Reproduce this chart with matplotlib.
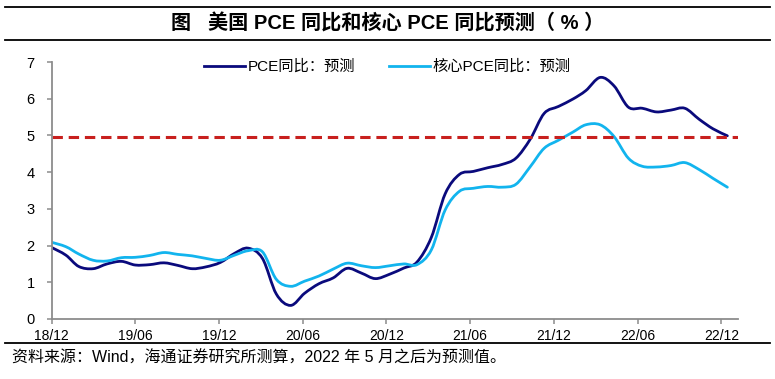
import numpy as np
import pandas as pd
import matplotlib
matplotlib.use('Agg')
import matplotlib.pyplot as plt
from matplotlib.path import Path
from matplotlib.patches import PathPatch
from matplotlib.lines import Line2D
import matplotlib.dates as mdates

# ---------------- data ----------------
months = pd.date_range('2018-12-31', '2022-12-31', freq='ME')

pce = [1.95, 1.74, 1.43, 1.37, 1.50, 1.57, 1.47, 1.48, 1.53, 1.46, 1.37, 1.42,
       1.54, 1.79, 1.93, 1.65, 0.68, 0.37, 0.70, 0.96, 1.12, 1.38, 1.25, 1.10,
       1.22, 1.39, 1.55, 2.22, 3.41, 3.94, 4.02, 4.12, 4.21, 4.38, 4.90, 5.60,
       5.79, 5.99, 6.22, 6.58, 6.35, 5.77, 5.74, 5.64, 5.69, 5.74, 5.44, 5.18,
       4.99]

core_pce = [2.09, 1.97, 1.77, 1.60, 1.58, 1.67, 1.68, 1.73, 1.81, 1.76, 1.72, 1.65,
            1.60, 1.74, 1.86, 1.83, 1.08, 0.89, 1.03, 1.17, 1.36, 1.52, 1.45, 1.40,
            1.45, 1.50, 1.48, 1.88, 2.97, 3.48, 3.56, 3.61, 3.59, 3.67, 4.15, 4.65,
            4.87, 5.09, 5.29, 5.29, 4.97, 4.38, 4.16, 4.14, 4.18, 4.26, 4.07, 3.83,
            3.59]

threshold = 4.95

tick_labels = ['18/12', '19/06', '19/12', '20/06', '20/12', '21/06', '21/12', '22/06', '22/12']
y_ticks = [0, 1, 2, 3, 4, 5, 6, 7]

series_names = ['PCE同比：预测', '核心PCE同比：预测']
title = '图   美国 PCE 同比和核心 PCE 同比预测（ % ）'
footer = '资料来源：Wind，海通证券研究所测算，2022 年 5 月之后为预测值。'

# ---------------- style ----------------
DARK = '#0A0A7C'
LIGHT = '#12B4EE'
RED = '#C8201E'
AXIS = '#8C8C8C'
LAT_CJK = ['Liberation Sans', 'Noto Sans CJK SC']


def smooth_path(x, y):
    """Excel-like smoothed line (Catmull-Rom as cubic Bezier segments)."""
    x = np.asarray(x, float)
    y = np.asarray(y, float)
    n = len(x)
    verts = [(x[0], y[0])]
    codes = [Path.MOVETO]
    for i in range(n - 1):
        xp, yp = (x[i - 1], y[i - 1]) if i > 0 else (x[i], y[i])
        xn, yn = (x[i + 2], y[i + 2]) if i + 2 < n else (x[i + 1], y[i + 1])
        c1 = (x[i] + (x[i + 1] - xp) / 6.0, y[i] + (y[i + 1] - yp) / 6.0)
        c2 = (x[i + 1] - (xn - x[i]) / 6.0, y[i + 1] - (yn - y[i]) / 6.0)
        verts += [c1, c2, (x[i + 1], y[i + 1])]
        codes += [Path.CURVE4] * 3
    return Path(verts, codes)


fig = plt.figure(figsize=(7.75, 3.79), dpi=100)
fig.patch.set_facecolor('white')

x0 = 51.5 / 775
ax = fig.add_axes([x0, 1 - 319 / 379, 686.5 / 775, (319 - 62) / 379])

xnum = mdates.date2num(months.to_pydatetime())
start = xnum[0]

ax.add_patch(PathPatch(smooth_path(xnum, pce), fill=False, edgecolor=DARK,
                       lw=2.0, capstyle='round', joinstyle='round'))
ax.add_patch(PathPatch(smooth_path(xnum, core_pce), fill=False, edgecolor=LIGHT,
                       lw=2.0, capstyle='round', joinstyle='round'))

ax.axhline(threshold, color=RED, lw=2.2, dashes=(3.4, 1.9))

ax.set_xlim(start, start + 1484)
ax.set_ylim(0, 7)

tick_pos = [start + 181 * i for i in range(len(tick_labels))]
ax.set_xticks(tick_pos)
ax.set_xticklabels(tick_labels, family=LAT_CJK, fontsize=10)
ax.set_yticks(y_ticks)
ax.set_yticklabels([str(v) for v in y_ticks], family=LAT_CJK, fontsize=10.5)

for s in ['top', 'right']:
    ax.spines[s].set_visible(False)
for s in ['left', 'bottom']:
    ax.spines[s].set_color(AXIS)
    ax.spines[s].set_linewidth(1.3)
ax.tick_params(axis='both', direction='out', length=3.5, width=1.1, color=AXIS)
ax.tick_params(axis='y', pad=8.5)
ax.tick_params(axis='x', pad=3.5)

handles = [Line2D([], [], color=DARK, lw=2.0), Line2D([], [], color=LIGHT, lw=2.0)]
fig.legend(handles, series_names, loc='center', bbox_to_anchor=(0.4994, 1 - 67 / 379),
           ncol=2, frameon=False, handlelength=2.7, handletextpad=0.15,
           columnspacing=2.2, prop={'family': LAT_CJK, 'size': 11})

# title band
fig.add_artist(Line2D([5 / 775, 770 / 775], [1 - 6.5 / 379, 1 - 6.5 / 379],
                      transform=fig.transFigure, color='black', lw=1.3))
fig.add_artist(Line2D([5 / 775, 770 / 775], [1 - 40 / 379, 1 - 40 / 379],
                      transform=fig.transFigure, color='black', lw=1.3))
fig.text(0.5, 1 - 23 / 379, title, ha='center', va='center', family=LAT_CJK,
         fontsize=14.5, fontweight='bold')

# footer
fig.add_artist(Line2D([5 / 775, 770 / 775], [1 - 343 / 379, 1 - 343 / 379],
                      transform=fig.transFigure, color='black', lw=1.3))
fig.text(12 / 775, 1 - 358.5 / 379, footer, ha='left', va='center', family=LAT_CJK,
         fontsize=11.5)

fig.savefig('out.png', dpi=100, facecolor='white')
